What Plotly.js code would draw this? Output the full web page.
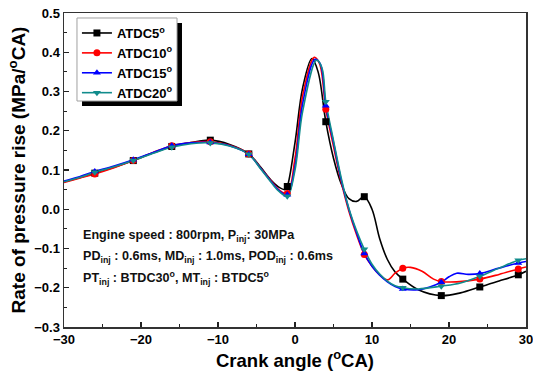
<!DOCTYPE html>
<html>
<head>
<meta charset="utf-8">
<script src="https://cdn.plot.ly/plotly-3.0.1.min.js"></script>
<style>html,body{margin:0;padding:0;background:#fff;}#chart{width:533px;height:377px;}</style>
</head>
<body>
<div id="chart"></div>
<script>
// ---- data ----
const seriesNames = ["ATDC5<sup>o</sup>", "ATDC10<sup>o</sup>", "ATDC15<sup>o</sup>", "ATDC20<sup>o</sup>"];

const xATDC5 = [-30,-28,-26,-23.5,-21,-18.5,-16,-13.5,-11,-8.5,-6,-4.5,-3,-2,-1.3,-1,0,1,2.2,3,4,5,6,7,8,9,10,11,12,13,14,16,19,21.5,24,26.5,29,30];
const yATDC5 = [0.070,0.080,0.092,0.107,0.124,0.143,0.160,0.170,0.176,0.165,0.141,0.108,0.072,0.055,0.050,0.058,0.17,0.31,0.384,0.35,0.223,0.13,0.065,0.027,0.020,0.032,0.0,-0.075,-0.128,-0.160,-0.178,-0.205,-0.220,-0.213,-0.198,-0.183,-0.167,-0.158];

const xATDC10 = [-30,-28,-26,-23.5,-21,-18.5,-16,-13.5,-11,-8.5,-6,-4.5,-3,-2,-1,0,1,2.5,3.2,4,5,6,7,8,9,10,11,12,13,14,15,16.5,18,19,21,24,26.5,29,30];
const yATDC10 = [0.068,0.079,0.090,0.106,0.124,0.144,0.162,0.170,0.172,0.163,0.141,0.106,0.070,0.048,0.040,0.13,0.29,0.387,0.37,0.255,0.16,0.07,-0.005,-0.065,-0.115,-0.145,-0.167,-0.180,-0.163,-0.150,-0.148,-0.158,-0.178,-0.184,-0.185,-0.178,-0.166,-0.152,-0.147];

const xATDC15 = [-30,-28,-26,-23.5,-21,-18.5,-16,-13.5,-11,-8.5,-6,-4.5,-3,-2,-1,0,1,2.6,3.3,4,5,6,7,8,9,10,11,12,13,14,16,17.5,19,20,21,22.5,24,26.5,29,30];
const yATDC15 = [0.072,0.083,0.096,0.110,0.126,0.144,0.162,0.169,0.170,0.162,0.140,0.105,0.068,0.046,0.037,0.11,0.27,0.382,0.37,0.264,0.17,0.075,0.0,-0.06,-0.113,-0.145,-0.168,-0.185,-0.197,-0.203,-0.205,-0.198,-0.186,-0.172,-0.163,-0.166,-0.164,-0.150,-0.137,-0.133];

const xATDC20 = [-30,-28,-26,-23.5,-21,-18.5,-16,-13.5,-11,-8.5,-6,-4.5,-3,-2,-1,0,1,2.8,3.5,4,5,6,7,8,9,10,11,12,13,14,16,19,21.5,24,26.5,29,30];
const yATDC20 = [0.070,0.081,0.094,0.108,0.124,0.142,0.158,0.167,0.169,0.161,0.140,0.104,0.066,0.044,0.033,0.10,0.25,0.380,0.36,0.274,0.175,0.08,0.002,-0.055,-0.102,-0.14,-0.165,-0.183,-0.195,-0.200,-0.203,-0.196,-0.188,-0.171,-0.150,-0.130,-0.126];

const markerX = [-26,-21,-16,-11,-6,-1,4,9,14,19,24,29];
const markATDC5  = [0.092,0.124,0.160,0.176,0.141,0.058,0.223,0.032,-0.178,-0.220,-0.198,-0.167];
const markATDC10 = [0.090,0.124,0.162,0.172,0.141,0.040,0.255,-0.115,-0.150,-0.184,-0.178,-0.152];
const markATDC15 = [0.096,0.126,0.162,0.170,0.140,0.037,0.264,-0.113,-0.203,-0.186,-0.164,-0.137];
const markATDC20 = [0.094,0.124,0.158,0.169,0.140,0.033,0.274,-0.102,-0.200,-0.196,-0.171,-0.130];

const xTickVals = [-30,-20,-10,0,10,20,30];
const yTickVals = [-0.3,-0.2,-0.1,0.0,0.1,0.2,0.3,0.4,0.5];

const noteLines = [
  "Engine speed : 800rpm, P<sub>inj</sub>: 30MPa",
  "PD<sub>inj</sub> : 0.6ms, MD<sub>inj</sub> : 1.0ms, POD<sub>inj</sub> : 0.6ms",
  "PT<sub>inj</sub> : BTDC30<sup>o</sup>, MT<sub>inj</sub> : BTDC5<sup>o</sup>"
];

// ---- styles ----
const colors = ["#000000", "#ff0000", "#0000ff", "#118c8c"];
const symbols = ["square", "circle", "triangle-up", "triangle-down"];
const lineX = [xATDC5, xATDC10, xATDC15, xATDC20];
const lineY = [yATDC5, yATDC10, yATDC15, yATDC20];
const markY = [markATDC5, markATDC10, markATDC15, markATDC20];
const FONT = "Arial, 'Liberation Sans', sans-serif";

const traces = [];
for (let i = 0; i < 4; i++) {
  traces.push({
    x: lineX[i], y: lineY[i], type: "scatter", mode: "lines",
    line: {color: colors[i], width: 1.6, shape: "spline", smoothing: 1},
    showlegend: false, hoverinfo: "skip"
  });
}
for (let i = 0; i < 4; i++) {
  const mx = [], my = [];
  markerX.forEach((v, k) => { mx.push(v); my.push(markY[i][k]); if (k < markerX.length - 1) { mx.push(null); my.push(null); } });
  traces.push({
    x: mx, y: my, type: "scatter", mode: "lines+markers", name: seriesNames[i],
    connectgaps: false,
    line: {color: colors[i], width: 1.6},
    marker: {color: colors[i], symbol: symbols[i], size: 7}
  });
}

const annotations = noteLines.map((t, k) => ({
  text: t, xref: "paper", yref: "paper", x: 0.037, y: [0.29, 0.223, 0.156][k],
  xanchor: "left", yanchor: "middle", showarrow: false,
  font: {family: FONT, size: 12.6, color: "#111", weight: "bold"}
}));

const layout = {
  width: 533, height: 377,
  margin: {l: 64, r: 7, t: 13, b: 50},
  paper_bgcolor: "#fff", plot_bgcolor: "#fff",
  font: {family: FONT, color: "#000", weight: "bold"},
  xaxis: {
    range: [-30, 30], tickvals: xTickVals, ticks: "inside", ticklen: 5, tickwidth: 1.2, tickcolor: "#222",
    minor: {dtick: 5, ticks: "inside", ticklen: 3, tickwidth: 1, tickcolor: "#222"},
    showline: true, linecolor: "#333", linewidth: 1.5, mirror: true, showgrid: false, zeroline: false,
    ticklabeloverflow: "allow",
    tickfont: {family: FONT, size: 13, weight: "bold"},
    title: {text: "Crank angle (<sup>o</sup>CA)", font: {family: FONT, size: 18.5, weight: "bold"}, standoff: 2}
  },
  yaxis: {
    range: [-0.3, 0.5], tickvals: yTickVals, tickformat: ".1f", ticks: "inside", ticklen: 5, tickwidth: 1.2, tickcolor: "#222",
    minor: {dtick: 0.05, ticks: "inside", ticklen: 3, tickwidth: 1, tickcolor: "#222"},
    showline: true, linecolor: "#333", linewidth: 1.5, mirror: true, showgrid: false, zeroline: false,
    tickfont: {family: FONT, size: 13, weight: "bold"},
    title: {text: "Rate of pressure rise (MPa/<sup>o</sup>CA)", font: {family: FONT, size: 19, weight: "bold"}, standoff: 3}
  },
  legend: {
    x: 0.028, y: 0.984, xanchor: "left", yanchor: "top",
    bgcolor: "rgba(0,0,0,0)", borderwidth: 0,
    font: {family: FONT, size: 13, weight: "bold"}, tracegroupgap: 0
  },
  // legend frame: black drop shadow, then white box with grey border (legend entries drawn on top)
  shapes: [{
    type: "rect", xref: "paper", yref: "paper", layer: "above",
    x0: 0.039, x1: 0.2554, y0: 0.7038, y1: 0.9682,
    fillcolor: "#000", line: {width: 0}
  }, {
    type: "rect", xref: "paper", yref: "paper", layer: "above",
    x0: 0.0281, x1: 0.2446, y0: 0.7197, y1: 0.9841,
    fillcolor: "#fff", line: {color: "#a0a0a0", width: 1}
  }],
  annotations: annotations
};

Plotly.newPlot("chart", traces, layout, {displayModeBar: false, staticPlot: true});
</script>
</body>
</html>
